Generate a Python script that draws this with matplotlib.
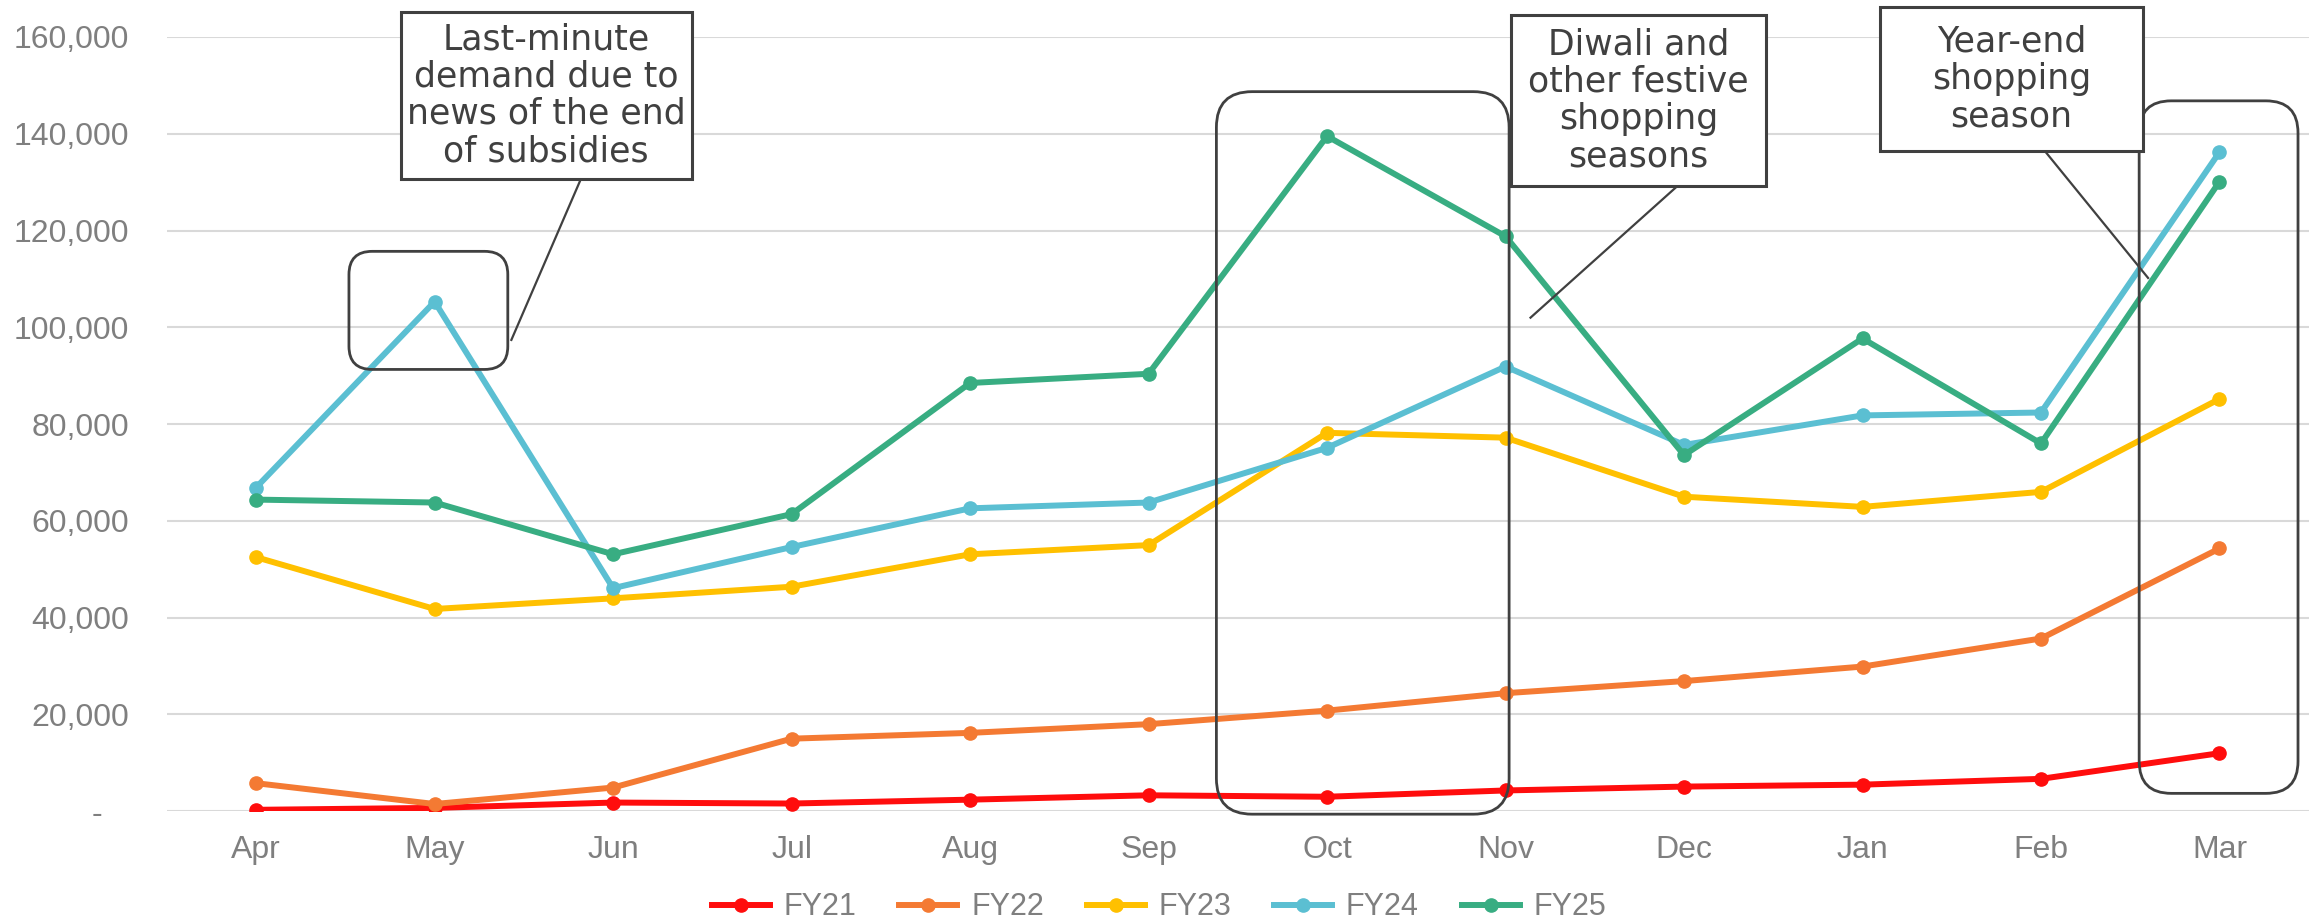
import numpy as np
import matplotlib.pyplot as plt
from matplotlib.patches import Rectangle, FancyBboxPatch
from matplotlib.ticker import FuncFormatter

months = ['Apr', 'May', 'Jun', 'Jul', 'Aug', 'Sep', 'Oct', 'Nov', 'Dec', 'Jan', 'Feb', 'Mar']

fy21 = [300, 700, 1800, 1600, 2400, 3300, 3000, 4300, 5100, 5500, 6700, 12000]
fy22 = [5800, 1500, 4900, 15000, 16200, 18000, 20800, 24400, 26900, 29900, 35700, 54300]
fy23 = [52500, 41800, 44000, 46400, 53100, 55000, 78200, 77200, 65000, 62900, 66000, 85200]
fy24 = [66900, 105300, 46100, 54600, 62600, 63800, 75100, 91900, 75700, 81800, 82400, 136200]
fy25 = [64400, 63800, 53100, 61400, 88500, 90400, 139500, 118800, 73600, 97700, 76000, 130100]

series = [('FY21', fy21, '#FF0D0D'),
          ('FY22', fy22, '#F47A33'),
          ('FY23', fy23, '#FFC000'),
          ('FY24', fy24, '#5BBFD2'),
          ('FY25', fy25, '#38AD82')]

fig = plt.figure(figsize=(23.18, 9.24), dpi=100)
ax = fig.add_axes([0.072, 0.122, 0.924, 0.838])

x = np.arange(len(months))
for name, vals, col in series:
    ax.plot(x, vals, color=col, lw=4.3, marker='o', ms=9.5, label=name)

ax.set_xlim(-0.5, 11.5)
ax.set_ylim(0, 160000)
ax.set_yticks(np.arange(0, 160001, 20000))
ax.yaxis.set_major_formatter(FuncFormatter(lambda v, p: '-   ' if v == 0 else f'{int(v):,}'))
ax.set_xticks(x)
ax.set_xticklabels(months)
ax.grid(axis='y', color='#D9D9D9', lw=1.5)
ax.set_axisbelow(True)
for s in ax.spines.values():
    s.set_visible(False)
ax.tick_params(length=0, labelsize=23, labelcolor='#7F7F7F')
ax.tick_params(axis='x', pad=17)
ax.tick_params(axis='y', pad=27)
for lab in ax.get_xticklabels() + ax.get_yticklabels():
    lab.set_family('Liberation Sans')

edge = '#404040'
aspect = 160000 / 774 * 178.5

# rounded highlight frames
def frame(x0, x1, y0, y1, r):
    p = FancyBboxPatch((x0, y0), x1 - x0, y1 - y0,
                       boxstyle=f'round,pad=0,rounding_size={r}',
                       mutation_aspect=aspect, fc='none', ec=edge, lw=2,
                       clip_on=False, zorder=5)
    ax.add_patch(p)

frame(0.52, 1.41, 91300, 115700, 0.13)
frame(5.38, 7.02, -600, 148700, 0.2)
frame(10.55, 11.44, 3700, 146800, 0.18)

# callout boxes
def callout(x0, x1, y0, y1, text, line):
    ax.plot(line[0], line[1], color=edge, lw=1.6, zorder=6, clip_on=False)
    ax.add_patch(Rectangle((x0, y0), x1 - x0, y1 - y0, fc='white', ec=edge,
                           lw=2.2, clip_on=False, zorder=7))
    ax.text((x0 + x1) / 2, (y0 + y1) / 2, text, ha='center', va='center',
            fontsize=25, color=edge, linespacing=1.12, zorder=8,
            family='DejaVu Sans')

callout(0.81, 2.44, 130700, 165200,
        'Last-minute\ndemand due to\nnews of the end\nof subsidies',
        ([1.82, 1.43], [130700, 97400]))
callout(7.03, 8.46, 129100, 164600,
        'Diwali and\nother festive\nshopping\nseasons',
        ([7.96, 7.14], [129100, 102000]))
callout(9.10, 10.57, 136500, 166100,
        'Year-end\nshopping\nseason',
        ([10.02, 10.60], [136500, 110200]))

leg = fig.legend(loc='center', bbox_to_anchor=(0.5, 0.018), ncol=5, frameon=False,
                 handlelength=1.9, columnspacing=1.4, handletextpad=0.45,
                 prop={'family': 'Liberation Sans', 'size': 22})
for t in leg.get_texts():
    t.set_color('#7F7F7F')

fig.savefig('out.png', dpi=100)
